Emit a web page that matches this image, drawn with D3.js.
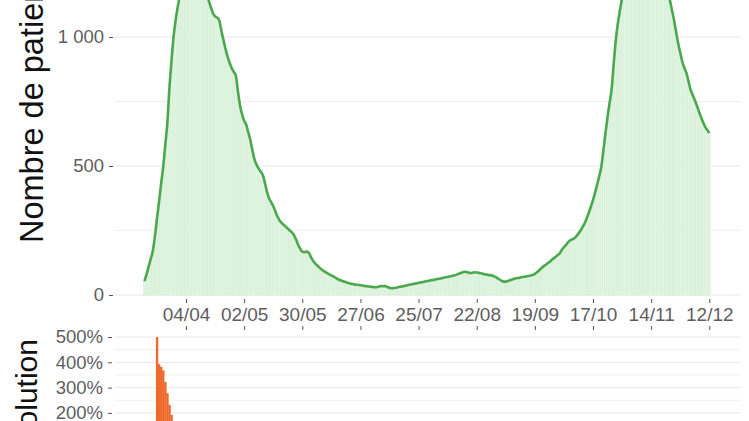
<!DOCTYPE html>
<html>
<head>
<meta charset="utf-8">
<script src="https://cdn.jsdelivr.net/npm/d3@7"></script>
<style>
  html, body { margin: 0; padding: 0; background: #ffffff; }
  svg { display: block; }
  text { font-family: "Liberation Sans", Arial, sans-serif; }
</style>
</head>
<body>
<svg id="chart" width="749" height="421"></svg>
<script>
// ---------------- DATA ----------------
const startDate = "2020-03-15";
const patientsMar = [54, 80, 110, 140, 170, 225, 295, 360, 430, 495, 580, 665, 800, 905, 1000, 1065, 1115];
const patientsApr = [1160, 1200, 1235, 1260, 1280, 1292, 1296, 1292, 1280, 1262, 1240, 1215, 1190, 1165, 1140,
  1115, 1092, 1080, 1075, 1065, 1025, 990, 955, 925, 900, 880, 865, 850, 790, 735];
const patientsMay = [700, 675, 660, 630, 600, 560, 525, 505, 490, 478, 465, 435, 400, 375, 360, 345, 325, 305, 290,
  280, 272, 265, 258, 250, 243, 232, 215, 195, 180, 168, 166];
const patientsJun = [168, 165, 150, 135, 124, 116, 108, 101, 95, 90, 85, 80, 76, 72, 67, 62, 58, 55, 52, 50, 47, 45,
  43, 41, 40, 39, 38, 37, 35, 34];
const patientsJul = [33, 32, 31, 30, 31, 33, 35, 34, 35, 31, 28, 26, 27, 28, 30, 32, 33, 35, 37, 39, 41, 42, 44, 45,
  47, 49, 50, 52, 54, 55, 57];
const patientsAug = [58, 60, 62, 63, 65, 67, 69, 70, 72, 74, 76, 78, 81, 84, 87, 90, 89, 87, 85, 86, 88, 87, 86, 84,
  82, 80, 79, 77, 76, 74, 70];
const patientsSep = [65, 60, 55, 52, 52, 54, 57, 60, 63, 65, 66, 68, 70, 71, 72, 74, 76, 78, 82, 88, 95, 103, 110,
  116, 122, 128, 135, 142, 148, 155];
const patientsOct = [162, 175, 185, 194, 205, 212, 216, 220, 228, 238, 250, 264, 278, 298, 320, 343, 368, 397, 428,
  460, 497, 560, 627, 690, 745, 800, 900, 990, 1055, 1105, 1150];
const patientsNov = [1190, 1228, 1260, 1288, 1312, 1332, 1347, 1359, 1368, 1375, 1378, 1375, 1368, 1358, 1345, 1328,
  1308, 1285, 1260, 1232, 1203, 1173, 1143, 1105, 1066, 1020, 976, 940, 904, 880];
const patientsDec = [860, 828, 795, 775, 756, 735, 711, 690, 670, 652, 640, 628];

const evolutionStart = "2020-03-21";
const evolution = [500, 392, 382, 368, 322, 278, 232, 192, 160, 140, 120, 105, 90, 78, 66, 55, 45, 36, 28, 20];

const tickDates = ["2020-04-04", "2020-05-02", "2020-05-30", "2020-06-27", "2020-07-25", "2020-08-22",
  "2020-09-19", "2020-10-17", "2020-11-14", "2020-12-12"];
const topTicks = [0, 500, 1000];
const topMinor = [250, 750];
const botTicks = [200, 300, 400, 500];
const botMinor = [250, 350, 450];
const topTitle = "Nombre de patients";
const botTitle = "Évolution";

// ---------------- BUILD ----------------
const parse = d3.utcParse("%Y-%m-%d");
const patients = [].concat(patientsMar, patientsApr, patientsMay, patientsJun, patientsJul,
  patientsAug, patientsSep, patientsOct, patientsNov, patientsDec);
const d0 = parse(startDate);
const series = patients.map((v, i) => ({ date: d3.utcDay.offset(d0, i), value: v }));
const e0 = parse(evolutionStart);
const evo = evolution.map((v, i) => ({ date: d3.utcDay.offset(e0, i), value: v }));

const svg = d3.select("#chart");
const panelLeft = 115, panelRight = 740;

const x = d3.scaleUtc()
  .domain([parse("2020-04-04"), parse("2020-12-12")])
  .range([186, 709.3]);
const dayW = x(parse("2020-04-05")) - x(parse("2020-04-04"));

const yTop = d3.scaleLinear().domain([0, 1000]).range([295, 37]);
const yBot = d3.scaleLinear().domain([0, 500]).range([463.5, 337]);

const gridMajor = "#e8e8e8", gridMinor = "#efefef", tickCol = "#555", labCol = "#5e5e5e";
const fontFam = "Liberation Sans, Arial, sans-serif";

// top grid
svg.append("g").selectAll("line").data(topMinor).join("line")
  .attr("x1", panelLeft).attr("x2", panelRight)
  .attr("y1", d => yTop(d)).attr("y2", d => yTop(d))
  .attr("stroke", gridMinor).attr("stroke-width", 1);
svg.append("g").selectAll("line").data(topTicks).join("line")
  .attr("x1", panelLeft).attr("x2", panelRight)
  .attr("y1", d => yTop(d)).attr("y2", d => yTop(d))
  .attr("stroke", gridMajor).attr("stroke-width", 1);

// bottom grid
svg.append("g").selectAll("line").data(botMinor).join("line")
  .attr("x1", panelLeft).attr("x2", panelRight)
  .attr("y1", d => yBot(d)).attr("y2", d => yBot(d))
  .attr("stroke", gridMinor).attr("stroke-width", 1);
svg.append("g").selectAll("line").data(botTicks).join("line")
  .attr("x1", panelLeft).attr("x2", panelRight)
  .attr("y1", d => yBot(d)).attr("y2", d => yBot(d))
  .attr("stroke", gridMajor).attr("stroke-width", 1);

// top bars
svg.append("g").selectAll("rect").data(series).join("rect")
  .attr("x", d => x(d.date) - dayW / 2)
  .attr("width", dayW)
  .attr("y", d => yTop(d.value))
  .attr("height", d => yTop(0) - yTop(d.value))
  .attr("fill", "#e2f4e2")
  .attr("stroke", "#cdeccd")
  .attr("stroke-width", 0.4);

// top line
svg.append("path").datum(series)
  .attr("d", d3.line().x(d => x(d.date)).y(d => yTop(d.value)).curve(d3.curveMonotoneX))
  .attr("fill", "none")
  .attr("stroke", "#4aa84e")
  .attr("stroke-width", 2.6)
  .attr("stroke-linejoin", "round");

// bottom bars
svg.append("clipPath").attr("id", "botclip").append("rect")
  .attr("x", panelLeft).attr("y", 332).attr("width", panelRight - panelLeft).attr("height", 200);
svg.append("g").attr("clip-path", "url(#botclip)")
  .selectAll("rect").data(evo).join("rect")
  .attr("x", d => x(d.date) - dayW / 2)
  .attr("width", dayW + 0.3)
  .attr("y", d => yBot(d.value))
  .attr("height", d => yBot(0) - yBot(d.value))
  .attr("fill", "#ee6a2c");

// y axis top
const yAxTop = svg.append("g").attr("transform", `translate(113,0)`)
  .call(d3.axisLeft(yTop).tickValues(topTicks).tickSize(4).tickPadding(5)
    .tickFormat(d => d3.format(",")(d).replace(",", " ")));
yAxTop.select(".domain").remove();
yAxTop.selectAll("line").attr("stroke", tickCol);
yAxTop.selectAll("text").attr("fill", labCol).attr("font-size", 18.5).attr("font-family", fontFam);

// y axis bottom
const yAxBot = svg.append("g").attr("transform", `translate(112,0)`)
  .call(d3.axisLeft(yBot).tickValues(botTicks).tickSize(4).tickPadding(5)
    .tickFormat(d => d + "%"));
yAxBot.select(".domain").remove();
yAxBot.selectAll("line").attr("stroke", tickCol);
yAxBot.selectAll("text").attr("fill", labCol).attr("font-size", 18.5).attr("font-family", fontFam);

// x axis (ticks below top panel, labels)
const tv = tickDates.map(parse);
const xAx = svg.append("g").attr("transform", `translate(0,299)`)
  .call(d3.axisBottom(x).tickValues(tv).tickSize(4).tickPadding(5)
    .tickFormat(d3.utcFormat("%d/%m")));
xAx.select(".domain").remove();
xAx.selectAll("line").attr("stroke", tickCol);
xAx.selectAll("text").attr("fill", labCol).attr("font-size", 19).attr("font-family", fontFam);

// x axis ticks above bottom panel
const xAx2 = svg.append("g").attr("transform", `translate(0,330)`)
  .call(d3.axisTop(x).tickValues(tv).tickSize(4).tickFormat(""));
xAx2.select(".domain").remove();
xAx2.selectAll("line").attr("stroke", tickCol);

// axis titles
svg.append("text")
  .attr("transform", "translate(43,243) rotate(-90)")
  .attr("text-anchor", "start")
  .attr("font-size", 32.5)
  .attr("fill", "#111")
  .text(topTitle);
svg.append("text")
  .attr("transform", "translate(37,339) rotate(-90)")
  .attr("text-anchor", "end")
  .attr("font-size", 30)
  .attr("fill", "#111")
  .text(botTitle);
</script>
</body>
</html>
